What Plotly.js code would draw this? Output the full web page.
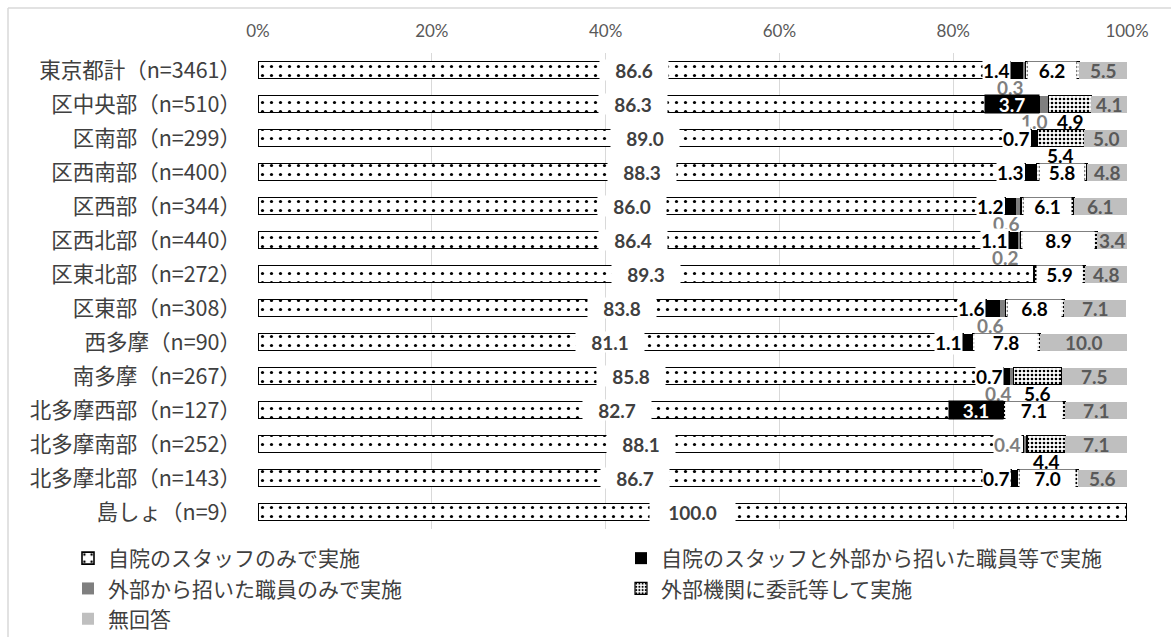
<!DOCTYPE html>
<html>
<head>
<meta charset="utf-8">
<script src="https://cdn.plot.ly/plotly-3.0.1.min.js"></script>
<style>
  body { margin: 0; background: #fff; }
  #chart { width: 1171px; height: 637px; }
</style>
</head>
<body>
<div id="chart"></div>
<script>
var categories = ["東京都計（n=3461）", "区中央部（n=510）", "区南部（n=299）", "区西南部（n=400）",
  "区西部（n=344）", "区西北部（n=440）", "区東北部（n=272）", "区東部（n=308）", "西多摩（n=90）",
  "南多摩（n=267）", "北多摩西部（n=127）", "北多摩南部（n=252）", "北多摩北部（n=143）", "島しょ（n=9）"];

var seriesNames = ["自院のスタッフのみで実施", "自院のスタッフと外部から招いた職員等で実施",
  "外部から招いた職員のみで実施", "外部機関に委託等して実施", "無回答"];

var selfOnly    = [86.6, 86.3, 89.0, 88.3, 86.0, 86.4, 89.3, 83.8, 81.1, 85.8, 82.7, 88.1, 86.7, 100.0];
var selfPlusExt = [1.4, 3.7, 0.7, 1.3, 1.2, 1.1, 0, 1.6, 1.1, 0.7, 3.1, 0, 0.7, 0];
var extOnly     = [0.3, 1.0, 0, 0, 0.6, 0.2, 0, 0.6, 0, 0.4, 0, 0.4, 0, 0];
var outsourced  = [6.2, 4.9, 5.4, 5.8, 6.1, 8.9, 5.9, 6.8, 7.8, 5.6, 7.1, 4.4, 7.0, 0];
var noAnswer    = [5.5, 4.1, 5.0, 4.8, 6.1, 3.4, 4.8, 7.1, 10.0, 7.5, 7.1, 7.1, 5.6, 0];

var tickVals = [0, 20, 40, 60, 80, 100];
var tickText = ["0%", "20%", "40%", "60%", "80%", "100%"];

var W = 1171, H = 637;
var M = {l: 258, r: 44, t: 53, b: 108};
var plotW = W - M.l - M.r, plotH = H - M.t - M.b;
function px2x(px) { return (px - M.l) / plotW; }
function py2y(py) { return 1 - (py - M.t) / plotH; }

var numFont = "Lato, 'Liberation Sans', sans-serif";
var jpFont = "'Noto Sans CJK JP', 'Noto Sans', sans-serif";

function bar(name, vals, color, legendId, pattern, line) {
  var m = {color: color, line: line || {width: 0}};
  if (pattern) m.pattern = pattern;
  return {
    type: 'bar', orientation: 'h', name: name,
    x: vals, y: categories, legend: legendId,
    marker: m, hoverinfo: 'skip'
  };
}

// left legend column: series 1,3,5 / right column: series 2,4
var data = [
  bar(seriesNames[0], selfOnly, '#ffffff', 'legend',
    {shape: '.', fillmode: 'replace', bgcolor: '#ffffff', fgcolor: '#000000', size: 9, solidity: 0.1},
    {color: '#000000', width: 1.6}),
  bar(seriesNames[1], selfPlusExt, '#000000', 'legend2'),
  bar(seriesNames[2], extOnly, '#7f7f7f', 'legend'),
  bar(seriesNames[3], outsourced, '#ffffff', 'legend2',
    {shape: '.', fillmode: 'replace', bgcolor: '#ffffff', fgcolor: '#000000', size: 4, solidity: 0.35},
    {color: '#000000', width: 1.2}),
  bar(seriesNames[4], noAnswer, '#bfbfbf', 'legend')
];

// data labels
var ann = [];
function lab(x, y, v, color, opts) {
  var a = {
    x: x, y: y, xref: 'x', yref: 'y', text: v.toFixed(1), showarrow: false,
    font: {family: numFont, size: 19, color: color, weight: 'bold'}
  };
  for (var k in opts) a[k] = opts[k];
  ann.push(a);
}
for (var i = 0; i < categories.length; i++) {
  var a = selfOnly[i], b = selfPlusExt[i], c = extOnly[i], d = outsourced[i], e = noAnswer[i];
  var aTxt = a.toFixed(1);
  lab(a / 2, i, a, '#404040', {bgcolor: '#ffffff', borderpad: 0, width: 17 * aTxt.length, height: 20});
  if (b >= 3) {
    lab(a + b, i, b, '#ffffff', {xanchor: 'right', bgcolor: '#000000', borderpad: 0, width: 54, height: 18});
  } else if (b > 0) {
    lab(a, i, b, '#000000', {xanchor: 'right', bgcolor: '#ffffff', borderpad: 0});
  }
  if (c > 0) {
    if (b === 0) {
      lab(a, i, c, '#7f7f7f', {xanchor: 'right', xshift: -2, bgcolor: '#ffffff', borderpad: 0});
    } else {
      lab(a + b + c, i + 0.5, c, '#7f7f7f', {xanchor: 'right', xshift: 1});
    }
  }
  if (d > 0) {
    var dx = a + b + c + d / 2;
    if (d >= 5.7) {
      lab(dx, i, d, '#000000', {bgcolor: '#ffffff', borderpad: 0, height: 17,
        width: Math.round(d / 100 * plotW) - 6});
    } else {
      lab(dx, i + 0.5, d, '#000000', {});
    }
  }
  if (e > 0) lab(a + b + c + d + e / 2, i, e, '#595959', {});
}

function legendAt(pxX) {
  return {
    orientation: 'h', xref: 'container', yref: 'container',
    x: pxX / W, y: 1 - 538 / H, xanchor: 'left', yanchor: 'top',
    entrywidth: 500, entrywidthmode: 'pixels', itemwidth: 30,
    font: {family: jpFont, size: 21, color: '#404040'},
    traceorder: 'normal'
  };
}

var layout = {
  width: W, height: H,
  margin: M,
  barmode: 'stack',
  bargap: 0.5,
  paper_bgcolor: '#ffffff',
  plot_bgcolor: '#ffffff',
  font: {family: jpFont, size: 20, color: '#404040'},
  showlegend: true,
  xaxis: {
    side: 'top', range: [0, 100], tickvals: tickVals, ticktext: tickText,
    showgrid: true, gridcolor: '#d9d9d9', gridwidth: 1, zeroline: false, showline: false,
    ticks: '', ticklabelstandoff: 12,
    tickfont: {family: numFont, size: 17, color: '#595959'},
    fixedrange: true
  },
  yaxis: {
    type: 'category', autorange: 'reversed', showgrid: false, zeroline: false, showline: false,
    ticks: '', ticklabelstandoff: 16,
    tickfont: {family: jpFont, size: 21.5, color: '#404040'},
    fixedrange: true
  },
  legend: legendAt(68),
  legend2: legendAt(621),
  annotations: ann,
  shapes: [
    {type: 'line', xref: 'paper', yref: 'paper', x0: px2x(8), x1: px2x(W), y0: py2y(8), y1: py2y(8),
      line: {color: '#d9d9d9', width: 1.5}},
    {type: 'line', xref: 'paper', yref: 'paper', x0: px2x(8), x1: px2x(8), y0: py2y(8), y1: py2y(H),
      line: {color: '#d9d9d9', width: 1.5}}
  ]
};

Plotly.newPlot('chart', data, layout, {displayModeBar: false, staticPlot: true});
</script>
</body>
</html>
